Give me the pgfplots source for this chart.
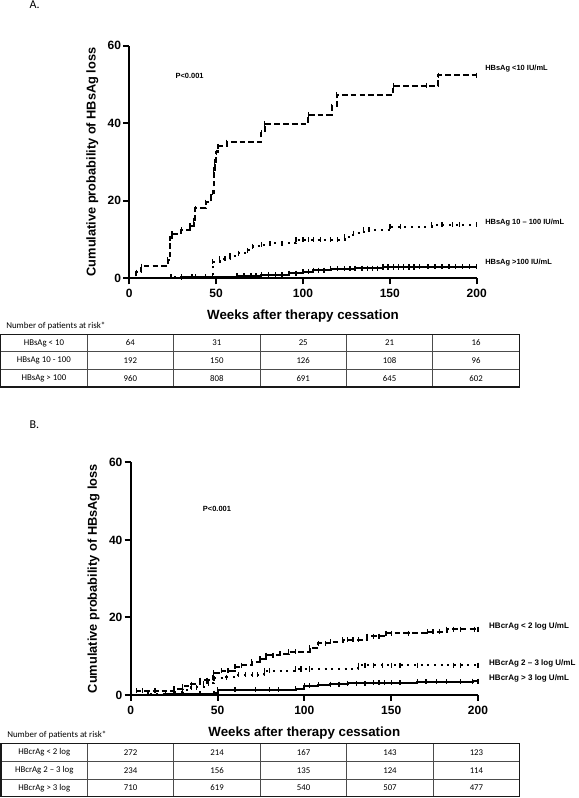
\documentclass[border=0pt]{standalone}
\usepackage{fontspec}
\setmainfont{Liberation Sans}
\newfontfamily\carlito{Carlito}
\usepackage{pgfplots}
\usepackage{pgfplotstable}
\pgfplotsset{compat=1.18}

% KM curves (x = weeks, y = cumulative %), censor ticks at every row
\pgfplotstableread{
x y
0 0
4 1.6
7 3.1
22 4.7
23.5 10.3
24.5 11.5
30 12.5
35 13.5
37 15
38 18
44 19.6
47 21
48 22
48.5 28
49.2 30
50 32.5
51 34
56 35.1
76 37.5
78 39.8
103 42.2
116.5 44.3
119.4 47.3
152 49.7
171 49.7
178 52.4
200 52.4
}\aLow
\pgfplotstableread{
x y
0 0
24 0.4
30 0.4
36 0.4
38 0.4
44 0.4
48 4.3
52 5.0
55 5.0
58 5.8
63 6.5
68 7.2
71 8.2
76 8.6
81 9.0
88 9.0
96 9.9
100 9.9
103 9.9
106 9.9
110 9.9
116 9.9
120 9.9
124 10.7
129 11.6
135 12.5
138 12.5
150 13.3
156 13.3
174 13.8
180 13.8
186 13.8
190 13.8
200 13.8
}\aMid
\pgfplotstableread{
x y
0 0
30 0.2
48 0.4
62 0.6
66 0.6
70 0.6
73 0.6
76 0.9
80 0.9
84 0.9
88 0.9
92 1.3
96 1.3
100 1.7
103 1.7
106 2.1
109 2.1
112 2.1
116 2.4
120 2.4
124 2.4
127 2.4
130 2.6
134 2.6
137 2.6
140 2.6
143 2.6
146 2.9
149 2.9
152 2.9
155 2.9
158 2.9
161 2.9
164 2.9
167 3.0
172 3.0
176 3.0
180 3.0
184 3.0
188 3.0
192 3.0
196 3.0
200 3.0
}\aHigh
\pgfplotstableread{
x y
0 0
3.5 1.1
7 1.1
14 1.1
25 1.6
30 2.2
35 2.8
40 3.8
44 3.8
47.6 5.7
52.4 6.3
56 6.3
60 7.3
64 7.7
69.7 8.6
74.5 9.4
78 10.3
82 10.3
86 10.6
91 11.2
95 11.2
103 12.2
108 13.3
112 13.3
115 13.7
122 14.3
125 14.3
128 14.3
131 14.3
136 15.2
140 15.2
143 15.2
147 15.9
150 15.9
160 15.9
171 16.3
174 16.3
178 16.3
182 17.0
186 17.0
190 17.0
198 17.0
200 17.0
}\bLow
\pgfplotstableread{
x y
0 0
10 0.3
25 0.8
30 1.2
35 2.0
38 2.0
42 3.0
45 3.0
48 4.3
55 4.6
62 5.2
66 5.2
70 5.2
73 5.2
77 6.3
80 6.3
95 6.7
98 6.7
103 6.7
131 7.7
135 7.7
140 7.7
145 7.7
150 7.7
155 7.7
165 7.7
186 7.7
190 7.7
200 7.7
}\bMid
\pgfplotstableread{
x y
0 0
20 0.3
30 0.3
40 0.3
48 0.5
50 1.3
60 1.3
72 1.3
80 1.3
85 1.3
95 1.6
100 2.4
103 2.4
108 2.6
115 2.8
120 2.8
125 3.0
130 3.0
135 3.0
140 3.2
143 3.2
146 3.2
150 3.2
155 3.2
165 3.4
170 3.4
176 3.4
182 3.4
190 3.4
197 3.6
200 3.6
}\bHigh

% patients at risk, columns sit under the x ticks
\pgfplotstableread{
x y lab
-50 2.5 {HBsAg < 10}
0 2.5 64
50 2.5 31
100 2.5 25
150 2.5 21
200 2.5 16
-50 1.5 {HBsAg 10 - 100}
0 1.5 192
50 1.5 150
100 1.5 126
150 1.5 108
200 1.5 96
-50 0.5 {HBsAg > 100}
0 0.5 960
50 0.5 808
100 0.5 691
150 0.5 645
200 0.5 602
}\riskA
\pgfplotstableread{
x y lab
-50 2.5 {HBcrAg < 2 log}
0 2.5 272
50 2.5 214
100 2.5 167
150 2.5 143
200 2.5 123
-50 1.5 {HBcrAg 2 – 3 log}
0 1.5 234
50 1.5 156
100 1.5 135
150 1.5 124
200 1.5 114
-50 0.5 {HBcrAg > 3 log}
0 0.5 710
50 0.5 619
100 0.5 540
150 0.5 507
200 0.5 477
}\riskB

\pgfplotsset{
  km/.style={
    scale only axis, width=260.5pt, height=174.5pt,
    xmin=0, xmax=200, ymin=0, ymax=60,
    axis lines*=left,
    axis line style={line width=1.5pt},
    xtick={0,50,100,150,200}, ytick={0,20,40,60},
    tick align=outside, major tick length=4.5pt,
    tick style={black, line width=1.5pt},
    tick label style={font=\bfseries\fontsize{9}{10}\selectfont},
    yticklabel style={inner sep=1.5pt},
    /pgf/number format/assume math mode=true,
    xlabel={Weeks after therapy cessation},
    xlabel style={at={(axis description cs:0.5,0)}, anchor=center, yshift=-28.2pt,
      font=\bfseries\fontsize{10}{12}\selectfont},
    ylabel={Cumulative probability of HBsAg loss},
    ylabel style={at={(axis description cs:-0.1065,0.5)}, anchor=center,
      font=\bfseries\fontsize{9.6}{11}\selectfont},
    clip=false,
  },
  curve/.style={black, line width=1.5pt, const plot, mark=|, mark size=1.9pt,
    mark options={solid, line width=1pt}},
  dashed km/.style={curve, dash pattern=on 4.3pt off 2.3pt},
  dotted km/.style={curve, dash pattern=on 1.5pt off 3.5pt},
  solid km/.style={curve},
  risk/.style={
    scale only axis, width=389pt, height=39.6pt,
    xmin=-75, xmax=225, ymin=0, ymax=3,
    xtick={-25,25,75,125,175}, ytick={1,2},
    xticklabels={}, yticklabels={}, major tick length=0pt,
    grid=major, major grid style={black!70, line width=0.6pt},
    axis line style={black!90, line width=0.8pt},
    clip=false,
  },
  risk text/.style={draw=none, mark=none, nodes near coords,
    point meta=explicit symbolic,
    every node near coord/.append style={anchor=center, inner sep=0pt, text=black,
      font=\carlito\fontsize{6.6}{7}\selectfont}},
}

\begin{document}
\begin{tikzpicture}
\path[use as bounding box] (0,0) rectangle (433.5pt,598.5pt);

\node[anchor=base west, font=\carlito\fontsize{9}{10}\selectfont] at (18.75pt,592.1pt) {A.};
\node[anchor=base west, font=\carlito\fontsize{9}{10}\selectfont] at (18.75pt,277.1pt) {B.};

% ---- A ----
\begin{axis}[km, at={(97pt,389.8pt)}, anchor=south west]
\addplot[dashed km] table {\aLow};
\addplot[dotted km] table {\aMid};
\addplot[solid km] table {\aHigh};
\node[font=\bfseries\fontsize{5.6}{6}\selectfont] at (axis cs:34.7,52.1) {P<0.001};
\node[anchor=west, inner sep=0pt, font=\bfseries\fontsize{5.6}{6}\selectfont] at (axis cs:204.8,54.1) {HBsAg <10 IU/mL};
\node[anchor=west, inner sep=0pt, font=\bfseries\fontsize{5.6}{6}\selectfont] at (axis cs:204.8,14.3) {HBsAg 10 – 100 IU/mL};
\node[anchor=west, inner sep=0pt, font=\bfseries\fontsize{5.6}{6}\selectfont] at (axis cs:204.8,3.95) {HBsAg >100 IU/mL};
\end{axis}

\begin{axis}[risk, at={(0.5pt,308.25pt)}, anchor=south west]
\addplot[risk text] table[meta=lab] {\riskA};
\node[anchor=west, inner sep=0pt, xshift=4pt, yshift=6.2pt, font=\carlito\fontsize{6.7}{7}\selectfont]
  at (rel axis cs:0,1) {Number of patients at risk*};
\end{axis}

% ---- B ----
\begin{axis}[km, at={(98pt,77.25pt)}, anchor=south west]
\addplot[dashed km] table {\bLow};
\addplot[dotted km] table {\bMid};
\addplot[solid km] table {\bHigh};
\node[font=\bfseries\fontsize{5.6}{6}\selectfont] at (axis cs:49.7,48.1) {P<0.001};
\node[anchor=west, inner sep=0pt, font=\bfseries\fontsize{6}{7}\selectfont] at (axis cs:206.3,17.7) {HBcrAg < 2 log U/mL};
\node[anchor=west, inner sep=0pt, font=\bfseries\fontsize{6}{7}\selectfont] at (axis cs:206.3,8.2) {HBcrAg 2 – 3 log U/mL};
\node[anchor=west, inner sep=0pt, font=\bfseries\fontsize{6}{7}\selectfont] at (axis cs:206.3,4.2) {HBcrAg > 3 log U/mL};
\end{axis}

\begin{axis}[risk, at={(0.75pt,0.975pt)}, anchor=south west]
\addplot[risk text] table[meta=lab] {\riskB};
\node[anchor=west, inner sep=0pt, xshift=4.5pt, yshift=6.5pt, font=\carlito\fontsize{6.7}{7}\selectfont]
  at (rel axis cs:0,1) {Number of patients at risk*};
\end{axis}
\end{tikzpicture}
\end{document}
